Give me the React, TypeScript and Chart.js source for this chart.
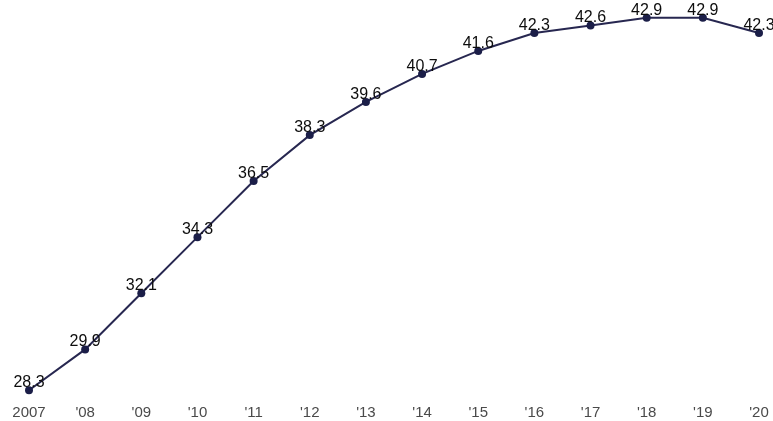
import React, { useEffect, useRef } from "react";
import { Chart, registerables } from "chart.js";

Chart.register(...registerables);

const categories = ["2007", "'08", "'09", "'10", "'11", "'12", "'13", "'14", "'15", "'16", "'17", "'18", "'19", "'20"];
const values = [28.3, 29.9, 32.1, 34.3, 36.5, 38.3, 39.6, 40.7, 41.6, 42.3, 42.6, 42.9, 42.9, 42.3];

const labelPlugin = {
  id: "pointLabels",
  afterDatasetsDraw(chart: any) {
    const ctx = chart.ctx;
    const meta = chart.getDatasetMeta(0);
    ctx.save();
    ctx.font = '16px "Liberation Sans", Arial, sans-serif';
    ctx.fillStyle = "#0d0d0d";
    ctx.textAlign = "center";
    ctx.textBaseline = "alphabetic";
    meta.data.forEach((pt: any, i: number) => {
      ctx.fillText(values[i].toFixed(1), pt.x, pt.y - 3);
    });
    ctx.restore();
  },
};

export default function App() {
  const ref = useRef<HTMLCanvasElement>(null);
  useEffect(() => {
    document.body.style.margin = "0";
    document.body.style.overflow = "hidden";
    const chart = new Chart(ref.current!, {
      type: "line",
      data: {
        labels: categories,
        datasets: [
          {
            data: values,
            borderColor: "#272750",
            borderWidth: 2,
            backgroundColor: "#1b1e48",
            pointBackgroundColor: "#1b1e48",
            pointBorderColor: "#1b1e48",
            pointRadius: 4,
            pointBorderWidth: 0,
            tension: 0,
            clip: false as any,
          },
        ],
      },
      options: {
        responsive: false,
        animation: false,
        layout: { padding: { left: 29, right: 14, top: 0, bottom: 0 } },
        plugins: { legend: { display: false }, tooltip: { enabled: false } },
        scales: {
          x: {
            type: "category",
            offset: false,
            grid: { display: false, drawTicks: false },
            border: { display: false },
            ticks: {
              color: "#4a4a4a",
              padding: 3,
              maxRotation: 0,
              autoSkip: false,
              font: { family: '"Liberation Sans", Arial, sans-serif', size: 15 },
            },
          },
          y: {
            display: false,
            min: 27.877,
            max: 43.44,
          },
        },
      },
      plugins: [labelPlugin],
    });
    return () => chart.destroy();
  }, []);
  return <canvas ref={ref} width={773} height={425} style={{ display: "block" }} />;
}
